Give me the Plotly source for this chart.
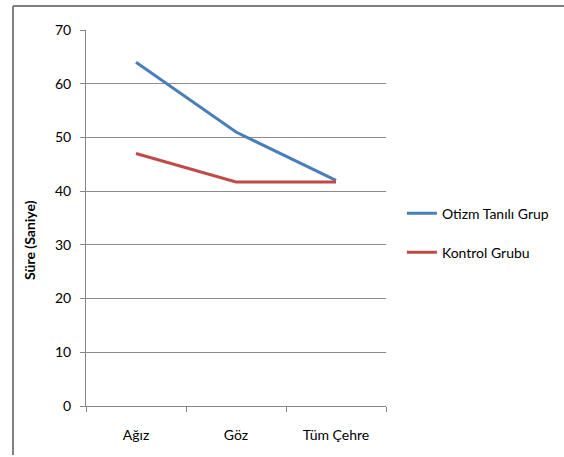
import plotly.graph_objects as go

categories = ["Ağız", "Göz", "Tüm Çehre"]
otizm = [64, 51, 42]
kontrol = [47, 41.7, 41.7]
y_ticks = [0, 10, 20, 30, 40, 50, 60, 70]

FONT = "Lato, Open Sans, sans-serif"

fig = go.Figure()
fig.add_trace(go.Scatter(x=categories, y=otizm, mode="lines", name="Otizm Tanılı Grup",
                         legendgroup="a",
                         line=dict(color="#4a7ebb", width=3)))
fig.add_trace(go.Scatter(x=categories, y=kontrol, mode="lines", name="Kontrol Grubu",
                         legendgroup="b",
                         line=dict(color="#be4b48", width=3)))

x_left = (13 - 86) / 300
y_top = 1 + 24 / 376
y_bot = -(455 - 406) / 376
frame = dict(color="#7f7f7f", width=2)

fig.update_layout(
    width=564, height=457,
    margin=dict(l=86, r=178, t=30, b=51, autoexpand=False),
    paper_bgcolor="white", plot_bgcolor="white",
    font=dict(family=FONT, size=14, color="#000"),
    showlegend=True,
    legend=dict(x=1.053, y=0.46, xanchor="left", yanchor="middle",
                font=dict(size=14), tracegroupgap=18, itemwidth=30,
                bgcolor="rgba(0,0,0,0)"),
    xaxis=dict(type="category", range=[-0.5, 2.5], showgrid=False,
               showline=True, linecolor="#868686", linewidth=1,
               ticks="outside", tickson="boundaries", ticklen=5, tickcolor="#868686",
               tickfont=dict(size=14), ticklabelstandoff=16, fixedrange=True),
    yaxis=dict(range=[0, 70], tickvals=y_ticks, showgrid=True, gridcolor="#8c8c8c", gridwidth=1,
               showline=True, linecolor="#868686", linewidth=1,
               ticks="outside", ticklen=5, tickcolor="#868686",
               tickfont=dict(size=14), ticklabelstandoff=6, zeroline=False, fixedrange=True),
    annotations=[dict(text="<b>Süre (Saniye)</b>", textangle=-90, xref="paper", yref="paper",
                      x=(29 - 86) / 300, y=(406 - 240) / 376, showarrow=False,
                      font=dict(size=14), xanchor="center", yanchor="middle")],
    shapes=[
        dict(type="line", xref="paper", yref="paper", x0=x_left, x1=1.65, y0=y_top, y1=y_top,
             line=frame, layer="above"),
        dict(type="line", xref="paper", yref="paper", x0=x_left, x1=x_left, y0=y_bot, y1=y_top,
             line=frame, layer="above"),
    ],
)

fig.write_html("out.html", config={"displayModeBar": False},
               post_script="document.body.style.margin='0';document.body.style.overflow='hidden';")
